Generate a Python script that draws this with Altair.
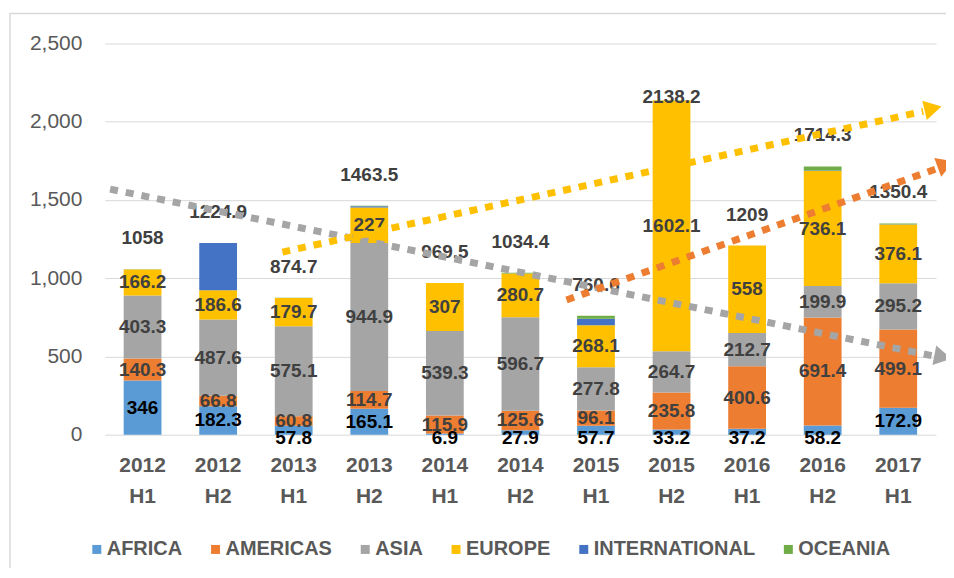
import altair as alt
import pandas as pd

# ---------------- data ----------------
periods = ["2012 H1", "2012 H2", "2013 H1", "2013 H2", "2014 H1", "2014 H2",
           "2015 H1", "2015 H2", "2016 H1", "2016 H2", "2017 H1"]
series = ["AFRICA", "AMERICAS", "ASIA", "EUROPE", "INTERNATIONAL", "OCEANIA"]
colors = ["#5B9BD5", "#ED7D31", "#A5A5A5", "#FFC000", "#4472C4", "#70AD47"]

africa = [346, 182.3, 57.8, 165.1, 6.9, 27.9, 57.7, 33.2, 37.2, 58.2, 172.9]
americas = [140.3, 66.8, 60.8, 114.7, 115.9, 125.6, 96.1, 235.8, 400.6, 691.4, 499.1]
asia = [403.3, 487.6, 575.1, 944.9, 539.3, 596.7, 277.8, 264.7, 212.7, 199.9, 295.2]
europe = [166.2, 186.6, 179.7, 227, 307, 280.7, 268.1, 1602.1, 558, 736.1, 376.1]
international = [0.0, 301.6, 0.0, 9.0, 0.0, 0.0, 41.0, 0.0, 0.0, 2.7, 2.1]
oceania = [2.2, 0.0, 1.3, 2.8, 0.4, 3.5, 19.9, 2.4, 0.5, 26.0, 5.0]
totals = [1058, 1224.9, 874.7, 1463.5, 969.5, 1034.4, 760.6, 2138.2, 1209, 1714.3, 1350.4]
labeled_series = ["AFRICA", "AMERICAS", "ASIA", "EUROPE"]
y_ticks = [0, 500, 1000, 1500, 2000, 2500]

title_text = "图2  中长期信用保险金额趋势图（亿美元）"

# trend arrows (hand-drawn annotations), x in category units, y in value units
trend_names = ["gray", "yellow", "orange"]
trend_colors = ["#A5A5A5", "#FFC000", "#ED7D31"]
trend_x0 = [0.07, 2.35, 6.11]
trend_v0 = [1569, 1167, 861]
trend_x1 = [10.96, 10.83, 11.03]
trend_v1 = [504, 2066, 1703]
head_x = [11.09, 10.96, 11.13]
head_v = [497, 2085, 1728]
head_angle = [11, 347, 340]

# ---------------- tables ----------------
all_vals = [africa, americas, asia, europe, international, oceania]
rows = []
for si, (name, vals) in enumerate(zip(series, all_vals)):
    for p, v in zip(periods, vals):
        rows.append({"period": p, "series": name, "order": si, "value": v})
df = pd.DataFrame(rows)
tot_df = pd.DataFrame({"period": periods, "total": totals})

line_rows = []
for n, c, xa, va, xb, vb in zip(trend_names, trend_colors, trend_x0, trend_v0, trend_x1, trend_v1):
    line_rows.append({"trend": n, "col": c, "tx": xa, "tv": va})
    line_rows.append({"trend": n, "col": c, "tx": xb, "tv": vb})
lines_df = pd.DataFrame(line_rows)
heads_df = pd.DataFrame({"trend": trend_names, "col": trend_colors, "tx": head_x,
                         "tv": head_v, "ang": head_angle})

NUM_FONT = "Liberation Sans"
band = alt.Scale(type="band", domain=periods, paddingInner=0.5, paddingOuter=0.25)
yscale = alt.Scale(domain=[0, 2500], nice=False)
yaxis = alt.Axis(values=y_ticks, labelExpr="format(datum.value, ',')",
                 grid=True, gridColor="#d9d9d9", gridWidth=1, domain=False,
                 ticks=False, labelPadding=23, labelFontSize=21,
                 labelColor="#595959", labelFont=NUM_FONT, title=None)

bars = alt.Chart(df).mark_bar().encode(
    x=alt.X("period:N", scale=band, sort=periods,
            axis=alt.Axis(labelExpr="split(datum.label, ' ')", labelAngle=0,
                          labelFontSize=21, labelFontWeight="bold", labelColor="#595959",
                          labelFont=NUM_FONT, labelLineHeight=31, labelPadding=20,
                          labelBaseline="top", domain=False, ticks=False, title=None,
                          grid=False)),
    y=alt.Y("value:Q", stack="zero", scale=yscale, axis=yaxis),
    color=alt.Color("series:N", scale=alt.Scale(domain=series, range=colors),
                    legend=alt.Legend(orient="none", legendX=-18, legendY=497,
                                      direction="horizontal", columns=6, title=None,
                                      symbolType="square", symbolSize=81,
                                      symbolStrokeWidth=0, labelFont=NUM_FONT,
                                      labelFontSize=20, labelFontWeight="bold",
                                      labelColor="#595959", columnPadding=23,
                                      labelOffset=0, labelLimit=400)),
    order=alt.Order("order:Q", sort="ascending"),
)

seg_labels = alt.Chart(df).transform_stack(
    stack="value", groupby=["period"], as_=["y0", "y1"],
    sort=[alt.SortField("order", order="ascending")]
).transform_filter(
    alt.FieldOneOfPredicate(field="series", oneOf=labeled_series)
).transform_calculate(
    mid="datum.series == 'AFRICA' && datum.value < 70 ? -22 : (datum.y0 + datum.y1) / 2"
).mark_text(font=NUM_FONT, fontSize=19, fontWeight="bold", baseline="middle").encode(
    x=alt.X("period:N", scale=band, sort=periods, axis=None),
    y=alt.Y("mid:Q", scale=yscale, axis=yaxis),
    text=alt.Text("value:Q"),
    color=alt.condition("datum.series == 'AFRICA'", alt.value("#000000"), alt.value("#404040")),
)

tot_labels = alt.Chart(tot_df).transform_calculate(
    ly="min(datum.total + 198, 2156)"
).mark_text(font=NUM_FONT, fontSize=19, fontWeight="bold", baseline="middle",
            color="#404040").encode(
    x=alt.X("period:N", scale=band, sort=periods, axis=None),
    y=alt.Y("ly:Q", scale=yscale, axis=yaxis),
    text=alt.Text("total:Q"),
)

tx_scale = alt.Scale(domain=[0, 11], nice=False, zero=False)
trend_lines = alt.Chart(lines_df).mark_line(
    strokeWidth=7, strokeDash=[8, 8], strokeCap="butt"
).encode(
    x=alt.X("tx:Q", scale=tx_scale, axis=None),
    y=alt.Y("tv:Q", scale=yscale, axis=yaxis),
    detail="trend:N",
    color=alt.Color("col:N", scale=None),
)

trend_heads = alt.Chart(heads_df).mark_point(
    shape="triangle-right", filled=True, size=400, opacity=1
).encode(
    x=alt.X("tx:Q", scale=tx_scale, axis=None),
    y=alt.Y("tv:Q", scale=yscale, axis=yaxis),
    angle=alt.Angle("ang:Q", scale=None),
    color=alt.Color("col:N", scale=None),
)

title = alt.Chart(pd.DataFrame({"t": [title_text]})).mark_text(
    font="Noto Sans CJK SC", fontSize=28, baseline="alphabetic", align="center",
    color="#000000"
).encode(text="t:N", x=alt.value(375), y=alt.value(-39))

frame = alt.Chart(pd.DataFrame({"a": [1]})).mark_rect(
    fillOpacity=0, stroke="#d9d9d9", strokeWidth=1.5
).encode(x=alt.value(-95), x2=alt.value(2000), y=alt.value(-30), y2=alt.value(2000))

chart = alt.layer(
    frame, bars, seg_labels, tot_labels, trend_lines, trend_heads, title
).resolve_scale(x="independent").properties(
    width=833, height=392,
    autosize=alt.AutoSizeParams(type="none"),
    padding={"left": 97, "top": 35, "right": 10, "bottom": 133},
).configure_view(stroke=None)

chart.save("out.html", embed_options={"renderer": "svg", "actions": False})
